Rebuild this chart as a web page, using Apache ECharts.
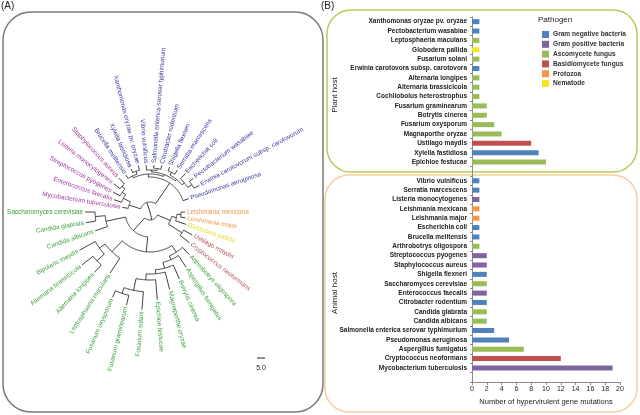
<!DOCTYPE html>
<html><head><meta charset="utf-8">
<script src="https://cdn.jsdelivr.net/npm/echarts/dist/echarts.min.js"></script>
<style>html,body{margin:0;padding:0;background:#fff}#c{width:640px;height:415px}</style>
</head><body><div id="c"></div>
<script>
// ---------- Panel B data ----------
const pathogenTypes = ['Gram negative bacteria','Gram positive bacteria','Ascomycete fungus','Basidiomycete fungus','Protozoa','Nematode'];
const typeColors = ['#4f81bd','#8064a2','#9bbb59','#c0504d','#f79646','#f5e625'];
const treeTextColors = ['#3b3b9e','#a0379a','#3d9e3d','#b5545a','#ee9a4e','#e3e03a'];

const plantCategories = ['Xanthomonas oryzae pv. oryzae','Pectobacterium wasabiae','Leptosphaeria maculans','Globodera pallida','Fusarium solani','Erwinia carotovora subsp. carotovora','Alternaria longipes','Alternaria brassicicola','Cochliobolus heterostrophus','Fusarium graminearum','Botrytis cinerea','Fusarium oxysporum','Magnaporthe oryzae','Ustilago maydis','Xylella fastidiosa','Epichloe festucae'];
const plantValues = [1,1,1,1,1,1,1,1,1,2,2,3,4,8,9,10];
const plantTypes  = [0,0,2,5,2,0,2,2,2,2,2,2,2,3,0,2];

const animalCategories = ['Vibrio vulnificus','Serratia marcescens','Listeria monocytogenes','Leishmania mexicana','Leishmania major','Escherichia coli','Brucella melitensis','Arthrobotrys oligospora','Streptococcus pyogenes','Staphylococcus aureus','Shigella flexneri','Saccharomyces cerevisiae','Enterococcus faecalis','Citrobacter rodentium','Candida glabrata','Candida albicans','Salmonella enterica serovar typhimurium','Pseudomonas aeruginosa','Aspergillus fumigatus','Cryptococcus neoformans','Mycobacterium tuberculosis'];
const animalValues = [1,1,1,1,1,1,1,1,2,2,2,2,2,2,2,2,3,5,7,12,19];
const animalTypes  = [0,0,1,4,4,0,0,2,1,1,0,2,1,0,2,2,0,0,2,3,1];

const xMin = 0, xMax = 20, xInterval = 2;

// ---------- Panel A data (Newick, branch lengths; #tag = pathogen type) ----------
const typeTags = {N:0, P:1, A:2, B:3, Z:4, E:5};
const treeNewick =
  '((' +
  '(((Leishmania_mexicana#Z:2.5,Leishmania_major#Z:3.1):2.5,Globodera_pallida#E:6.9):3.1,(Ustilago_maydis#B:6.25,Cryptococcus_neoformans#B:7.5):10):8.8,' +
  '((' +
  '(Arthrobotrys_oligospora#A:6.25,(Aspergillus_fumigatus#A:8.75,(Botrytis_cinerea#A:9.4,(Magnaporthe_oryzae#A:11.25,(Epichloe_festucae#A:12.5,(Fusarium_solani#A:11.25,(Fusarium_graminearum#A:6.25,Fusarium_oxysporum#A:4.4):3.75):7.5):3.75):2.5):3.75):2.5):5,' +
  '(Leptosphaeria_maculans#A:11.25,((Alternaria_longipes#A:6.25,Alternaria_brassicicola#A:8.75):6.25,Bipolaris_maydis#A:11.25):4.4):9.4' +
  '):9.4,' +
  '(Candida_albicans#A:8.1,(Candida_glabrata#A:6.25,Saccharomyces_cerevisiae#A:6.25):6.25):12.5' +
  '):10.6' +
  '):5,' +
  '(' +
  '(Mycobacterium_tuberculosis#P:3.75,(Enterococcus_faecalis#P:5,(Streptococcus_pyogenes#P:5,(Listeria_monocytogenes#P:5,Staphylococcus_aureus#P:5):2.5):2.5):5):7.5,' +
  '((' +
  '(Brucella_melitensis#N:2.5,(Xylella_fastidiosa#N:2.5,Xanthomonas_oryzae_pv._oryzae#N:3.1):1.9):1.25,' +
  '(' +
  '(Vibrio_vulnificus#N:3.1,(Salmonella_enterica_serovar_typhimurium#N:1.9,Citrobacter_rodentium#N:2.5):1.25):1.25,' +
  '((Shigella_flexneri#N:2.5,Serratia_marcescens#N:3.1):1.9,(Escherichia_coli#N:4.4,(Pectobacterium_wasabiae#N:3.1,Erwinia_carotovorum_subsp._carotovorum#N:3.75):3.1):1.9):1.25' +
  '):1.25' +
  '):1.9,' +
  'Pseudomonas_aeruginosa#N:3.75' +
  '):15.6' +
  '):6.25' +
  ');';
const scaleBarValue = 5.0;

// ---------- Newick parsing & node ordering ----------
function parseNewick(str) {
  const s = str.replace(/\s+/g, '');
  let i = 0;
  function node() {
    const n = {children: []};
    if (s[i] === '(') {
      i++;
      n.children.push(node());
      while (s[i] === ',') { i++; n.children.push(node()); }
      i++;
    }
    let name = '';
    while (i < s.length && !',:();'.includes(s[i])) name += s[i++];
    let len = 0;
    if (s[i] === ':') {
      i++; let num = '';
      while (i < s.length && !',();'.includes(s[i])) num += s[i++];
      len = parseFloat(num);
    }
    const parts = name.split('#');
    n.name = parts[0].replace(/_/g, ' ');
    n.type = parts[1] ? typeTags[parts[1]] : -1;
    n.len = len;
    return n;
  }
  return node();
}
const treeRoot = parseNewick(treeNewick);
const treeNodes = [];
let leafCount = 0;
(function walk(n, parent) {
  n.parent = parent;
  n.depth = parent ? parent.depth + n.len : 0;
  treeNodes.push(n);
  n.children.forEach(c => walk(c, n));
  if (n.children.length === 0) n.slot = leafCount++;
  else n.slot = (n.children[0].slot + n.children[n.children.length - 1].slot) / 2;
})(treeRoot, null);

// ---------- chart ----------
const chart = echarts.init(document.getElementById('c'), null, {renderer: 'canvas'});
const cats = [...plantCategories, ' ', ...animalCategories, '  '];
const vals = [...plantValues, null, ...animalValues, null];
const types = [...plantTypes, -1, ...animalTypes, -1];
const FONT = 'Liberation Sans, Arial, sans-serif';
const polarRadius = 112, radiusMax = 70;

const barSeries = pathogenTypes.map((name, t) => ({
  type: 'bar', name, xAxisIndex: 0, yAxisIndex: 0,
  barWidth: 5, barGap: '-100%',
  itemStyle: {color: typeColors[t]},
  data: vals.map((v, i) => types[i] === t ? v : '-')
}));

const treeSeries = {
  type: 'custom', coordinateSystem: 'polar', silent: true,
  data: treeNodes.map(n => [n.depth, n.slot]),
  renderItem(params, api) {
    const n = treeNodes[params.dataIndex];
    const st = {stroke: '#2d2d2d', lineWidth: 0.9, fill: null};
    const kids = [];
    if (n.parent) {
      const p0 = api.coord([n.parent.depth, n.slot]);
      const p1 = api.coord([n.depth, n.slot]);
      kids.push({type: 'line', shape: {x1: p0[0], y1: p0[1], x2: p1[0], y2: p1[1]}, style: st});
    }
    if (n.children.length) {
      const a0 = n.children[0].slot, a1 = n.children[n.children.length - 1].slot;
      const steps = Math.max(2, Math.ceil(Math.abs(a1 - a0) * 10));
      const pts = [];
      for (let k = 0; k <= steps; k++) pts.push(api.coord([n.depth, a0 + (a1 - a0) * k / steps]));
      kids.push({type: 'polyline', shape: {points: pts}, style: st});
    } else {
      const c = api.coord([0, 0]);
      const p = api.coord([n.depth + 1.2, n.slot]);
      const th = Math.atan2(-(p[1] - c[1]), p[0] - c[0]);
      const left = Math.cos(th) < 0;
      kids.push({type: 'text', x: p[0], y: p[1], rotation: left ? th - Math.PI : th,
        style: {text: n.name, fill: treeTextColors[n.type], fontSize: 6.4, fontFamily: FONT,
          align: left ? 'right' : 'left', verticalAlign: 'middle'}});
    }
    return {type: 'group', children: kids};
  }
};

chart.setOption({
  animation: false,
  textStyle: {fontFamily: FONT},
  polar: {center: [150, 212], radius: polarRadius},
  angleAxis: {type: 'value', min: 0, max: leafCount + 1, startAngle: 0, clockwise: true, show: false},
  radiusAxis: {type: 'value', min: 0, max: radiusMax, show: false},
  grid: {left: 472, top: 17, width: 148, height: 365},
  xAxis: {
    type: 'value', min: xMin, max: xMax, interval: xInterval,
    axisLine: {show: true, lineStyle: {color: '#8a8a8a'}},
    axisTick: {show: true, length: 3, lineStyle: {color: '#8a8a8a'}},
    axisLabel: {fontSize: 7, color: '#222', margin: 4},
    splitLine: {show: false},
    name: 'Number of hypervirulent gene mutations', nameLocation: 'middle', nameGap: 15,
    nameTextStyle: {fontSize: 7.5, color: '#222'}
  },
  yAxis: {
    type: 'category', inverse: true, data: cats,
    axisLine: {show: true, lineStyle: {color: '#8a8a8a'}},
    axisTick: {show: true, length: 2, lineStyle: {color: '#8a8a8a'}},
    axisLabel: {interval: 0, fontSize: 6.5, fontWeight: 'bold', color: '#222', margin: 5}
  },
  legend: {
    data: pathogenTypes, orient: 'vertical', left: 537, top: 26,
    itemWidth: 7, itemHeight: 7, itemGap: 2.8, icon: 'rect',
    textStyle: {fontSize: 6.6, fontWeight: 'bold', color: '#333', padding: [0, 0, 0, -1]}
  },
  graphic: [
    {type: 'rect', shape: {x: 3, y: 12, width: 320, height: 400, r: 28}, style: {fill: 'none', stroke: '#7a7a7a', lineWidth: 1.5}},
    {type: 'rect', shape: {x: 327, y: 10, width: 310, height: 162, r: 24}, style: {fill: 'none', stroke: '#b6cc5a', lineWidth: 1.5}},
    {type: 'rect', shape: {x: 325, y: 175, width: 312, height: 237, r: 24}, style: {fill: 'none', stroke: '#f2cf9e', lineWidth: 1.5}},
    {type: 'text', x: 1, y: 1, style: {text: '(A)', fontSize: 10, fill: '#222', fontFamily: FONT}},
    {type: 'text', x: 321, y: 1, style: {text: '(B)', fontSize: 10, fill: '#222', fontFamily: FONT}},
    {type: 'text', x: 335, y: 95, rotation: Math.PI / 2, style: {text: 'Plant host', fontSize: 8, fill: '#222', fontFamily: FONT, align: 'center', verticalAlign: 'middle'}},
    {type: 'text', x: 335, y: 293, rotation: Math.PI / 2, style: {text: 'Animal host', fontSize: 8, fill: '#222', fontFamily: FONT, align: 'center', verticalAlign: 'middle'}},
    {type: 'text', x: 538, y: 20, style: {text: 'Pathogen', fontSize: 8, fill: '#222', fontFamily: FONT, verticalAlign: 'middle'}},
    {type: 'line', shape: {x1: 257, y1: 358, x2: 257 + scaleBarValue * polarRadius / radiusMax, y2: 358}, style: {stroke: '#222', lineWidth: 1}},
    {type: 'text', x: 261, y: 368, style: {text: scaleBarValue.toFixed(1), fontSize: 7, fill: '#222', fontFamily: FONT, align: 'center', verticalAlign: 'middle'}}
  ],
  series: [...barSeries, treeSeries]
});
</script>
</body></html>
